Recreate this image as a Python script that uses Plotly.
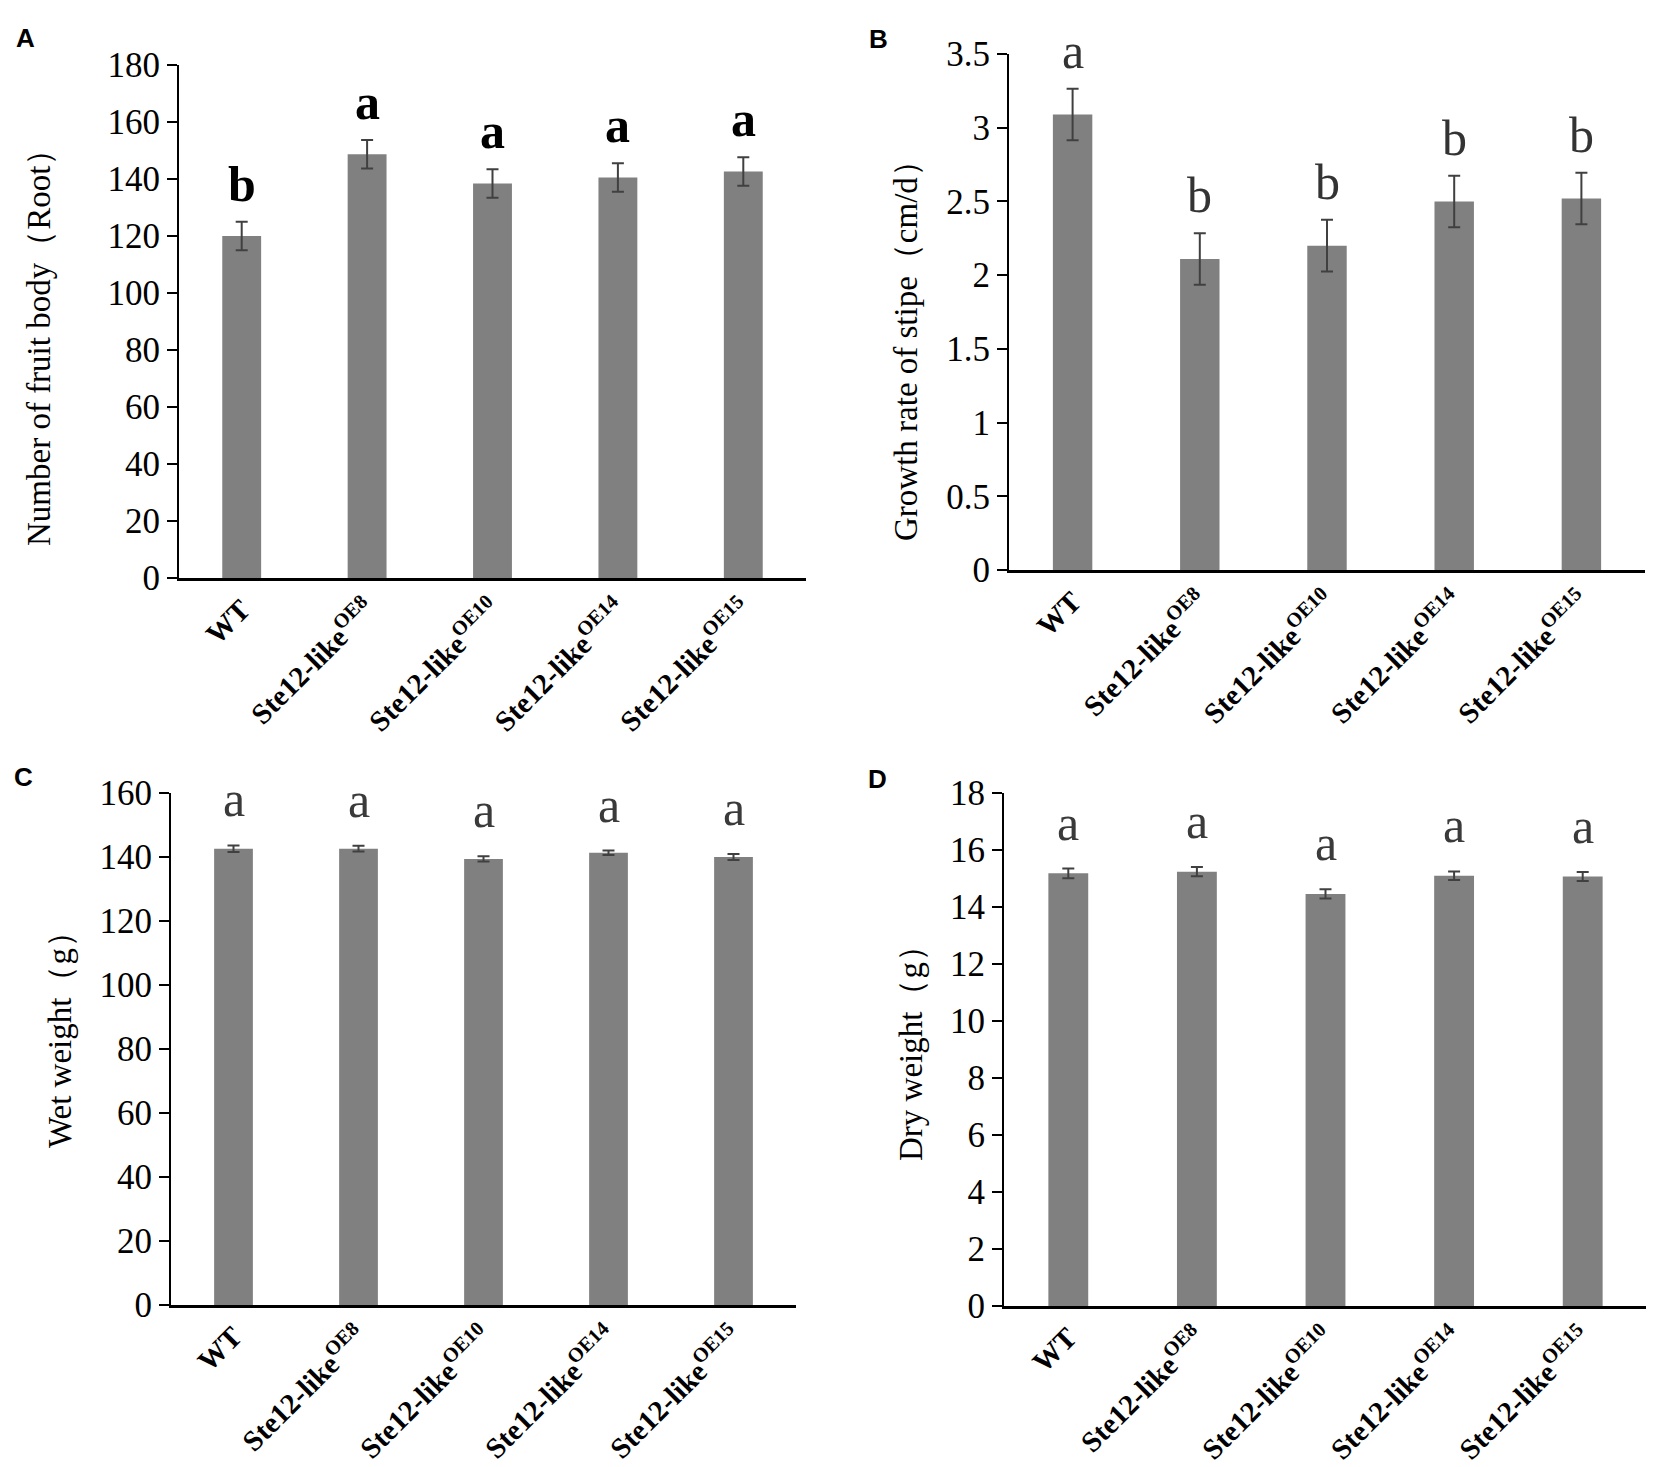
import plotly.graph_objects as go

# categories (x tick labels)
strains = ["WT", "Ste12-like<sup>OE8</sup>", "Ste12-like<sup>OE10</sup>",
           "Ste12-like<sup>OE14</sup>", "Ste12-like<sup>OE15</sup>"]

# A - number of fruit body
fruit_num = [120, 148.7, 138.4, 140.5, 142.6]
fruit_err = [5, 5, 5, 5, 5]
fruit_sig = ["b", "a", "a", "a", "a"]

# B - growth rate of stipe
growth = [3.09, 2.11, 2.20, 2.50, 2.52]
growth_err = [0.175, 0.175, 0.175, 0.175, 0.175]
growth_sig = ["a", "b", "b", "b", "b"]

# C - wet weight
wet = [142.6, 142.6, 139.4, 141.3, 140.0]
wet_err = [1.0, 0.9, 0.8, 0.7, 0.9]
wet_sig = ["a", "a", "a", "a", "a"]

# D - dry weight
dry = [15.18, 15.24, 14.46, 15.10, 15.07]
dry_err = [0.17, 0.16, 0.16, 0.15, 0.16]
dry_sig = ["a", "a", "a", "a", "a"]

# page has a small body margin, so the figure is drawn a bit smaller and
# all pixel positions below (measured on the full page) are shifted by it
OFF = 8
W, H = 1654 - OFF, 1467 - OFF
serif = "Liberation Serif, Times New Roman, serif"


def px_x(v):
    return (v - OFF + 2) / W


def px_y(v):
    return 1 - (v - OFF) / H


panels = [
    dict(v=fruit_num, e=fruit_err, s=fruit_sig, rng=[0, 180], dt=20,
         title="Number of fruit body（Root）", box=(177, 804, 65, 578),
         tx=37, ty=340, bold=True, col="black", gap=8, tag="A", tagpos=(12, 21)),
    dict(v=growth, e=growth_err, s=growth_sig, rng=[0, 3.5], dt=0.5,
         title="Growth rate of stipe（cm/d）", box=(1007, 1643, 54, 570),
         tx=904, ty=342, bold=False, col="#333333", gap=8, tag="B", tagpos=(865, 22)),
    dict(v=wet, e=wet_err, s=wet_sig, rng=[0, 160], dt=20,
         title="Wet weight（g）", box=(169, 794, 793, 1305),
         tx=58, ty=1032, bold=False, col="#3a3a3a", gap=16, tag="C", tagpos=(10, 760)),
    dict(v=dry, e=dry_err, s=dry_sig, rng=[0, 18], dt=2,
         title="Dry weight（g）", box=(1002, 1645, 793, 1306),
         tx=909, ty=1045, bold=False, col="#3a3a3a", gap=16, tag="D", tagpos=(864, 762)),
]

fig = go.Figure()
annotations = []

for i, p in enumerate(panels, start=1):
    xa = "x" if i == 1 else f"x{i}"
    ya = "y" if i == 1 else f"y{i}"
    x0, x1, yt, yb = p["box"]

    fig.add_trace(go.Bar(
        x=strains, y=p["v"], xaxis=xa, yaxis=ya,
        marker=dict(color="#808080", line=dict(width=0)),
        error_y=dict(type="data", array=p["e"], color="#404040",
                     thickness=2, width=6),
        width=0.31, showlegend=False, hoverinfo="skip",
    ))

    # significance letters above error bars
    for cat, val, err, letter in zip(strains, p["v"], p["e"], p["s"]):
        txt = f"<b>{letter}</b>" if p["bold"] else letter
        annotations.append(dict(
            x=cat, y=val + err, xref=xa, yref=ya, text=txt, showarrow=False,
            yanchor="bottom", yshift=p["gap"],
            font=dict(family=serif, size=50, color=p["col"]),
        ))

    # y axis title
    annotations.append(dict(
        x=px_x(p["tx"]), y=px_y(p["ty"]), xref="paper", yref="paper",
        text=p["title"], textangle=-90, showarrow=False,
        xanchor="center", yanchor="middle",
        font=dict(family=serif, size=33, color="black"),
    ))

    # panel tag
    annotations.append(dict(
        x=px_x(p["tagpos"][0]), y=px_y(p["tagpos"][1]), xref="paper", yref="paper",
        text=f"<b>{p['tag']}</b>", showarrow=False, xanchor="left", yanchor="top",
        font=dict(family="Liberation Sans, Arial, sans-serif", size=26, color="black"),
    ))

    fig.layout[xa.replace("x", "xaxis")] = dict(
        domain=[px_x(x0), px_x(x1)], anchor=ya, automargin=False,
        showline=True, linecolor="black", linewidth=3,
        ticks="", tickangle=-45, showgrid=False,
        tickfont=dict(family=serif, size=29, color="black", weight="bold"),
        fixedrange=True,
    )
    fig.layout[ya.replace("y", "yaxis")] = dict(
        domain=[px_y(yb), px_y(yt)], anchor=xa, automargin=False,
        range=p["rng"], dtick=p["dt"], tick0=0,
        showline=True, linecolor="black", linewidth=2,
        ticks="outside", ticklen=10, tickwidth=2, tickcolor="black",
        showgrid=False, zeroline=False,
        tickfont=dict(family=serif, size=35, color="black"),
        fixedrange=True,
    )

fig.update_layout(
    width=W, height=H,
    margin=dict(l=0, r=0, t=0, b=0, autoexpand=False),
    paper_bgcolor="white", plot_bgcolor="white",
    bargap=0.69,
    annotations=annotations,
)

fig.write_html("out.html")
